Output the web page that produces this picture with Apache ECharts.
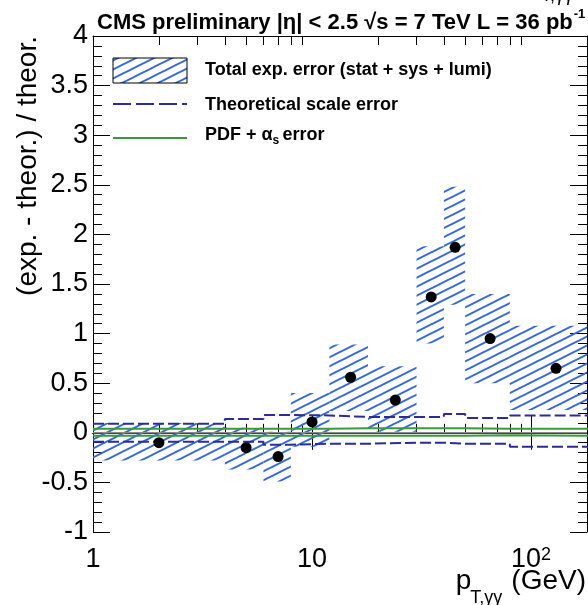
<!DOCTYPE html>
<html><head><meta charset="utf-8">
<script src="https://cdn.jsdelivr.net/npm/echarts@6/dist/echarts.min.js"></script>
<style>html,body{margin:0;padding:0;background:#fff}#c{width:588px;height:605px}</style>
</head><body><div id="c"></div>
<script>
// ---- data ----
const binLow   = [1, 4, 6, 8, 12, 18, 30, 40, 50, 80];
const binHigh  = [4, 6, 8, 12, 18, 30, 40, 50, 80, 200];
const pointX   = [2, 5, 7, 10, 15, 24, 35, 45, 65, 130];
const pointY   = [-0.10, -0.15, -0.24, 0.11, 0.56, 0.33, 1.37, 1.87, 0.95, 0.65];
const expLow   = [-0.28, -0.37, -0.49, -0.14, 0.22, 0.01, 0.90, 1.29, 0.50, 0.23];
const expHigh  = [0.10, 0.05, 0.01, 0.40, 0.89, 0.67, 1.88, 2.48, 1.40, 1.08];
const scaleUp  = [0.09, 0.14, 0.18, 0.175, 0.16, 0.16, 0.16, 0.19, 0.15, 0.175];
const scaleDown= [-0.09, -0.09, -0.12, -0.11, -0.11, -0.10, -0.10, -0.11, -0.11, -0.14];
const pdfUp    = [0.04, 0.04, 0.04, 0.04, 0.045, 0.045, 0.045, 0.045, 0.04, 0.04];
const pdfDown  = [-0.03, -0.03, -0.03, -0.03, -0.03, -0.03, -0.03, -0.03, -0.025, -0.03];
const xMajorTicks = [1, 10, 100];
const xMinorTicks = [2, 3, 4, 5, 6, 7, 8, 9, 20, 30, 40, 50, 60, 70, 80, 90];
const xRange = [1, 180];
const yRange = [-1, 4];
const yStep = 0.5;

// ---- styles ----
const FONT = 'Liberation Sans, Arial, Helvetica, sans-serif';
const HATCH = '#3568d4';
const NAVY = '#2b2b9c';
const GREEN = '#3a9a3a';

function makeHatch() {
  const w = 18, h = 9;
  const c = document.createElement('canvas');
  c.width = w; c.height = h;
  const ctx = c.getContext('2d');
  ctx.strokeStyle = HATCH; ctx.lineWidth = 2;
  for (const k of [-1, 0, 1]) {
    ctx.beginPath(); ctx.moveTo(-w, 2 * h + k * h); ctx.lineTo(2 * w, -h + k * h); ctx.stroke();
  }
  return c;
}
const hatchPattern = { image: makeHatch(), repeat: 'repeat' };

function stepData(vals) {
  const d = binLow.map((x, i) => [x, vals[i]]);
  d.push([binHigh[binHigh.length - 1], vals[vals.length - 1]]);
  return d;
}

const mctx = document.createElement('canvas').getContext('2d');
function tw(text, font) { mctx.font = font; return mctx.measureText(text).width; }

const chart = echarts.init(document.getElementById('c'), null, { renderer: 'canvas' });

const gridPos = { left: 93, right: 1, top: 36, bottom: 73 };
const axisLine = { show: true, lineStyle: { color: '#000', width: 1 } };

function xAx(grid, pos, ticks, len, labels) {
  return {
    type: 'log', logBase: 10, min: xRange[0], max: xRange[1], gridIndex: grid, position: pos,
    axisLine: axisLine,
    axisTick: { show: true, inside: true, length: len, customValues: ticks, lineStyle: { color: '#000', width: 1 } },
    axisLabel: labels ? {
      show: true, customValues: xMajorTicks, color: '#000', fontSize: 27, fontFamily: FONT, margin: 14,
      formatter: v => (v === 100 ? '10{s|2}' : String(v)),
      rich: { s: { fontSize: 18, fontFamily: FONT, color: '#000', verticalAlign: 'top' } }
    } : { show: false },
    splitLine: { show: false }, minorTick: { show: false }, minorSplitLine: { show: false }
  };
}
function yAx(grid, pos, labels, show) {
  return {
    type: 'value', min: yRange[0], max: yRange[1], interval: yStep, gridIndex: grid, position: pos, show: show,
    axisLine: axisLine,
    axisTick: { show: true, inside: true, length: 17, lineStyle: { color: '#000', width: 1 } },
    minorTick: { show: true, splitNumber: 5, length: 9, lineStyle: { color: '#000', width: 1 } },
    axisLabel: labels ? { show: true, color: '#000', fontSize: 27, fontFamily: FONT, margin: 5, showMinLabel: true, showMaxLabel: true } : { show: false },
    splitLine: { show: false }
  };
}

// text pieces with sub/superscripts
const titleFont = 'bold 22px ' + FONT;
const titleMain = 'CMS preliminary |η| < 2.5 √s = 7 TeV L = 36 pb';
const titleW = tw(titleMain, titleFont);
const gevFont = '28px ' + FONT;
const gevW = tw('(GeV)', gevFont);
const subFont = '18px ' + FONT;
const subW = tw('T,γγ', subFont);
const subRight = 586 - gevW - 9;
const legFont = 'bold 18px ' + FONT;
const pdfW = tw('PDF + ', legFont);
const alphaW = tw('α', legFont);

const graphics = [
  { type: 'text', left: 97, top: 12, style: { text: titleMain, font: titleFont, fill: '#000' } },
  { type: 'text', x: 97 + titleW + 1, y: 8, style: { text: '-1', font: 'bold 13px ' + FONT, fill: '#000' } },
  { type: 'text', x: 541, y: -13, style: { text: 'T,γγ', font: '18px ' + FONT, fill: '#000' } },
  // y axis title
  { type: 'text', x: 28, y: 36, rotation: Math.PI / 2,
    style: { text: '(exp. - theor.) / theor.', font: '28px ' + FONT, fill: '#000', align: 'right', verticalAlign: 'middle' } },
  // x axis title
  { type: 'text', x: 586, y: 581, style: { text: '(GeV)', font: gevFont, fill: '#000', align: 'right', verticalAlign: 'middle' } },
  { type: 'text', x: subRight, y: 598, style: { text: 'T,γγ', font: subFont, fill: '#000', align: 'right', verticalAlign: 'middle' } },
  { type: 'text', x: subRight - subW + 1, y: 581, style: { text: 'p', font: gevFont, fill: '#000', align: 'right', verticalAlign: 'middle' } },
  // legend
  { type: 'rect', shape: { x: 113, y: 58, width: 74, height: 25 }, style: { fill: hatchPattern, stroke: '#000', lineWidth: 1 } },
  { type: 'text', x: 205, y: 70, style: { text: 'Total exp. error (stat + sys + lumi)', font: legFont, fill: '#000', verticalAlign: 'middle' } },
  { type: 'line', shape: { x1: 113, y1: 104, x2: 187, y2: 104 }, style: { stroke: NAVY, lineWidth: 2, lineDash: [18, 5] } },
  { type: 'text', x: 205, y: 105, style: { text: 'Theoretical scale error', font: legFont, fill: '#000', verticalAlign: 'middle' } },
  { type: 'line', shape: { x1: 113, y1: 138, x2: 187, y2: 138 }, style: { stroke: GREEN, lineWidth: 2 } },
  { type: 'text', x: 205, y: 135, style: { text: 'PDF + ', font: legFont, fill: '#000', verticalAlign: 'middle' } },
  { type: 'text', x: 205 + pdfW, y: 135, style: { text: 'α', font: legFont, fill: '#000', verticalAlign: 'middle' } },
  { type: 'text', x: 205 + pdfW + alphaW, y: 141, style: { text: 's', font: 'bold 12px ' + FONT, fill: '#000', verticalAlign: 'middle' } },
  { type: 'text', x: 205 + pdfW + alphaW + 10, y: 135, style: { text: 'error', font: legFont, fill: '#000', verticalAlign: 'middle' } }
];

const boxData = binLow.map((x, i) => [x, binHigh[i], expLow[i], expHigh[i]]);

const option = {
  animation: false,
  backgroundColor: '#fff',
  grid: [Object.assign({}, gridPos), Object.assign({}, gridPos)],
  xAxis: [
    xAx(0, 'bottom', xMajorTicks, 17, true),
    xAx(0, 'top', xMajorTicks, 17, false),
    xAx(1, 'bottom', xMinorTicks, 9, false),
    xAx(1, 'top', xMinorTicks, 9, false)
  ],
  yAxis: [
    yAx(0, 'left', true, true),
    yAx(0, 'right', false, true),
    yAx(1, 'left', false, false)
  ],
  graphic: graphics,
  series: [
    {
      type: 'custom', xAxisIndex: 0, yAxisIndex: 0, z: 1,
      encode: { x: [0, 1], y: [2, 3] },
      data: boxData,
      renderItem: function (params, api) {
        const p0 = api.coord([api.value(0), api.value(2)]);
        const p1 = api.coord([api.value(1), api.value(3)]);
        const cs = params.coordSys;
        const r = echarts.graphic.clipRectByRect(
          { x: p0[0], y: p1[1], width: p1[0] - p0[0], height: p0[1] - p1[1] },
          { x: cs.x, y: cs.y, width: cs.width, height: cs.height });
        return r && { type: 'rect', shape: r, style: { fill: hatchPattern } };
      }
    },
    { type: 'line', xAxisIndex: 0, yAxisIndex: 0, z: 2, data: [[xRange[0], 0], [xRange[1], 0]],
      showSymbol: false, lineStyle: { color: '#8a8a8a', width: 1.5 }, silent: true },
    { type: 'line', xAxisIndex: 0, yAxisIndex: 0, z: 3, data: stepData(pdfUp), step: 'end',
      showSymbol: false, lineStyle: { color: GREEN, width: 2 } },
    { type: 'line', xAxisIndex: 0, yAxisIndex: 0, z: 3, data: stepData(pdfDown), step: 'end',
      showSymbol: false, lineStyle: { color: GREEN, width: 2 } },
    { type: 'line', xAxisIndex: 0, yAxisIndex: 0, z: 4, data: stepData(scaleUp), step: 'end',
      showSymbol: false, lineStyle: { color: NAVY, width: 2, type: [11, 4] } },
    { type: 'line', xAxisIndex: 0, yAxisIndex: 0, z: 4, data: stepData(scaleDown), step: 'end',
      showSymbol: false, lineStyle: { color: NAVY, width: 2, type: [11, 4] } },
    { type: 'scatter', xAxisIndex: 0, yAxisIndex: 0, z: 5, symbol: 'circle', symbolSize: 11,
      data: pointX.map((x, i) => [x, pointY[i]]), itemStyle: { color: '#000', opacity: 1 } }
  ]
};
chart.setOption(option);
</script>
</body></html>
